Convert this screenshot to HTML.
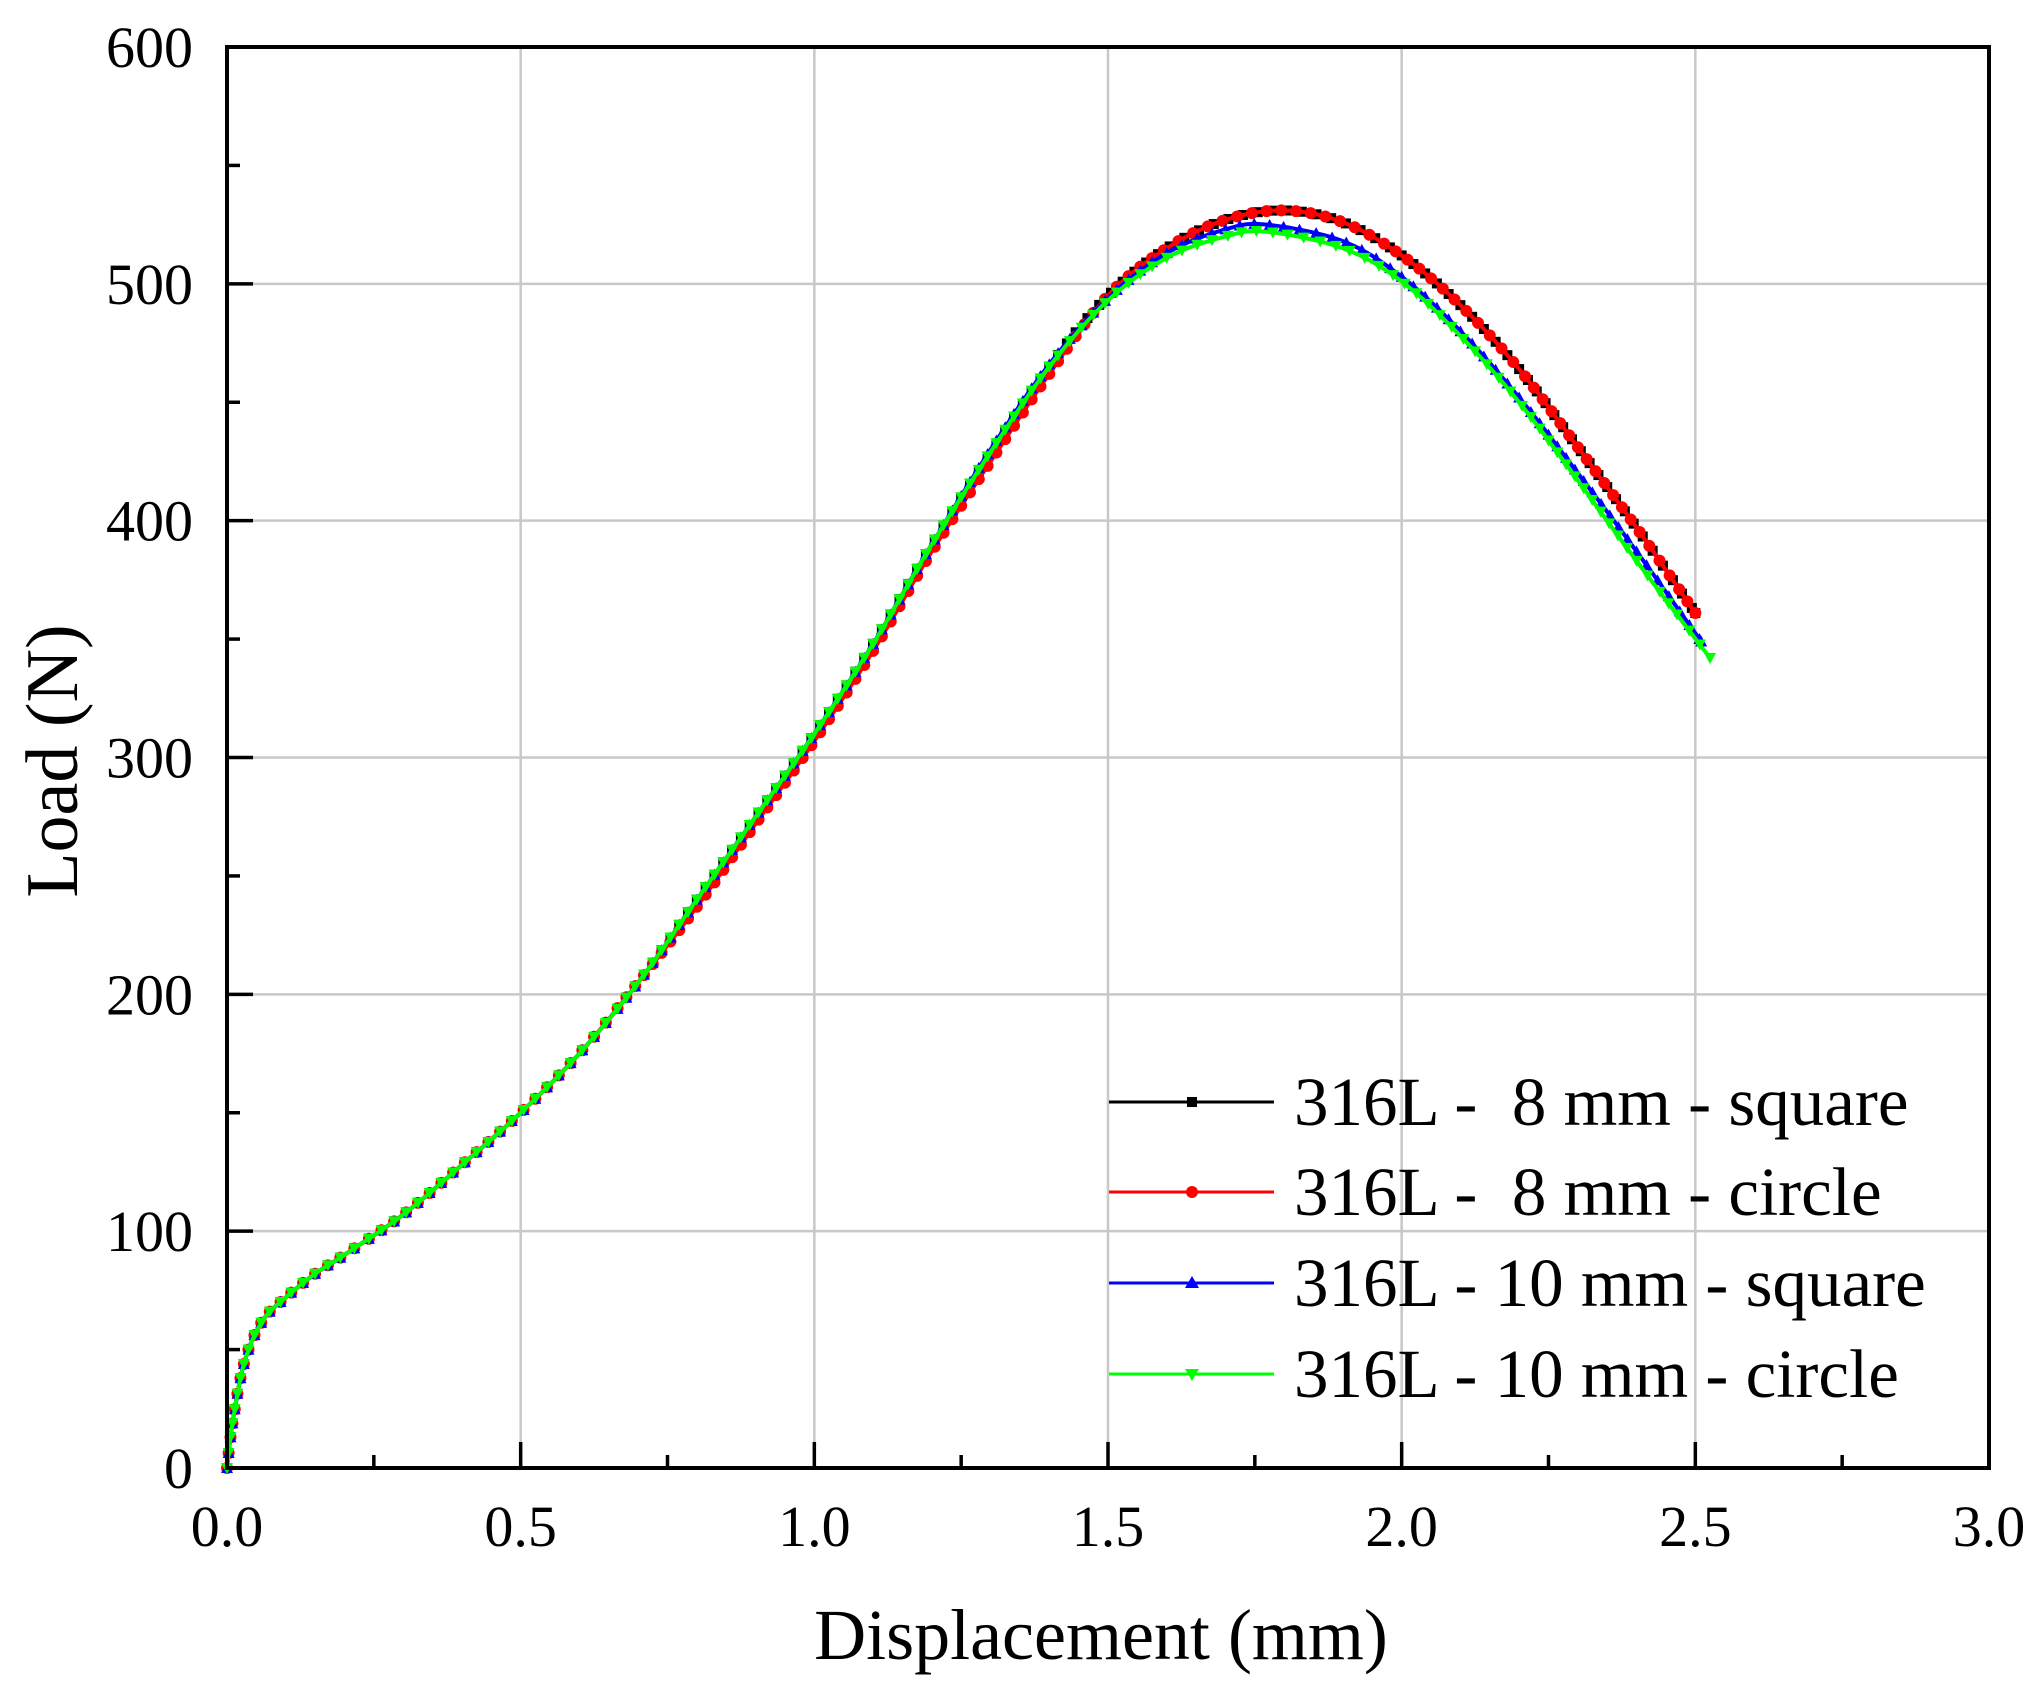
<!DOCTYPE html>
<html><head><meta charset="utf-8"><style>
html,body{margin:0;padding:0;background:#fff}
svg{display:block}
text{font-family:"Liberation Serif",serif;fill:#000}
</style></head><body>
<svg id="s" width="2040" height="1693" viewBox="0 0 2040 1693" xmlns="http://www.w3.org/2000/svg">
<g id="grid" stroke="#c8c8c8" stroke-width="2.5"></g>
<g id="curves"></g>
<g id="ticks" stroke="#000" stroke-width="3.5"></g>
<rect x="227" y="47" width="1762" height="1421" fill="none" stroke="#000" stroke-width="4"/>
<g id="labels" font-size="58"></g>
<text x="1101" y="1659" font-size="72" text-anchor="middle">Displacement (mm)</text>
<text transform="translate(77,761) rotate(-90)" font-size="74" text-anchor="middle">Load (N)</text>
<g id="legend" font-size="69">
<line x1="1109" y1="1102" x2="1274" y2="1102" stroke="#000" stroke-width="3"/>
<rect x="1187" y="1097" width="10" height="10" fill="#000"/>
<text x="1294" y="1125">316L - &#160;8 mm - square</text>
<line x1="1109" y1="1192" x2="1274" y2="1192" stroke="#ff0000" stroke-width="3"/>
<circle cx="1192" cy="1192" r="6" fill="#ff0000"/>
<text x="1294" y="1215">316L - &#160;8 mm - circle</text>
<line x1="1109" y1="1283" x2="1274" y2="1283" stroke="#0000ff" stroke-width="3"/>
<polygon points="1192,1276 1199,1288 1185,1288" fill="#0000ff"/>
<text x="1294" y="1306">316L - 10 mm - square</text>
<line x1="1109" y1="1374" x2="1274" y2="1374" stroke="#00ff00" stroke-width="3"/>
<polygon points="1185,1369 1199,1369 1192,1381" fill="#00ff00"/>
<text x="1294" y="1397">316L - 10 mm - circle</text>
</g>
</svg>
<script>
var NS="http://www.w3.org/2000/svg";
var X0=227,X1=1989,Y0=1468,Y1=47;
function px(d){return X0+d*(X1-X0)/3}
function py(l){return Y0-l*(Y0-Y1)/600}
function el(n,a,p){var e=document.createElementNS(NS,n);for(var k in a)e.setAttribute(k,a[k]);p.appendChild(e);return e}
var g=document.getElementById('grid'),t=document.getElementById('ticks'),lb=document.getElementById('labels');
for(var i=0;i<=6;i++){var x=px(i*0.5);
 if(i>0&&i<6)el('line',{x1:x,y1:Y1,x2:x,y2:Y0},g);
 el('line',{x1:x,y1:Y0,x2:x,y2:Y0-26},t);
 if(i<6)el('line',{x1:px(i*0.5+0.25),y1:Y0,x2:px(i*0.5+0.25),y2:Y0-13},t);
 var tx=el('text',{x:x,y:1546,'text-anchor':'middle'},lb);tx.textContent=(i*0.5).toFixed(1);}
for(var i=0;i<=6;i++){var y=py(i*100);
 if(i>0&&i<6)el('line',{x1:X0,y1:y,x2:X1,y2:y},g);
 el('line',{x1:X0,y1:y,x2:X0+26,y2:y},t);
 if(i<6)el('line',{x1:X0,y1:py(i*100+50),x2:X0+13,y2:py(i*100+50)},t);
 var ty=el('text',{x:193,y:y+20,'text-anchor':'end'},lb);ty.textContent=String(i*100);}
var base=[[0,0],[0.01,20],[0.03,45],[0.06,62],[0.1,72],[0.15,82],[0.2,90],[0.3,107],[0.4,128],[0.5,150],[0.6,175],[0.7,205],[0.8,240],[0.9,275],[1.0,310],[1.1,348],[1.2,390],[1.3,428],[1.4,465],[1.5,495],[1.6,515],[1.7,527],[1.8,531],[1.9,526],[2.0,512],[2.1,491],[2.2,464],[2.3,431],[2.4,397],[2.5,361]];
var red=base.map(function(p){var o=(p[0]>0.7&&p[0]<1.45)?-3:0;return [p[0],p[1]+o]});
var blue=base.slice(0,17).concat([[1.3,430],[1.4,466],[1.5,494],[1.6,513],[1.7,523],[1.77,525],[1.9,518],[2.0,503],[2.1,480],[2.2,452],[2.3,420],[2.4,387],[2.51,349]]);
var green=base.slice(0,17).concat([[1.3,429],[1.4,465],[1.5,493],[1.6,511],[1.7,520],[1.77,522],[1.9,515],[2.0,501],[2.1,478],[2.2,450],[2.3,417],[2.4,383],[2.525,342]]);
function interp(P){var out=[];for(var i=0;i<P.length-1;i++){var p0=P[Math.max(0,i-1)],p1=P[i],p2=P[i+1],p3=P[Math.min(P.length-1,i+2)];
 for(var s=0;s<20;s++){var u=s/20,u2=u*u,u3=u2*u;
  var f=function(a,b,c,d){return 0.5*((2*b)+(-a+c)*u+(2*a-5*b+4*c-d)*u2+(-a+3*b-3*c+d)*u3)};
  out.push([f(p0[0],p1[0],p2[0],p3[0]),f(p0[1],p1[1],p2[1],p3[1])]);}}
 out.push(P[P.length-1]);return out;}
var cv=document.getElementById('curves');
function draw(P,col,mk){var Q=interp(P);
 el('polyline',{points:Q.map(function(q){return px(q[0]).toFixed(1)+','+py(q[1]).toFixed(1)}).join(' '),fill:'none',stroke:col,'stroke-width':4},cv);
 var last=-1;
 for(var i=0;i<Q.length;i++){var x=px(Q[i][0]),y=py(Q[i][1]);
  if(last<0||Math.hypot(x-last[0],y-last[1])>=14||i==Q.length-1){last=[x,y];
   if(mk=='sq')el('rect',{x:x-5,y:y-5,width:10,height:10,fill:col},cv);
   else if(mk=='ci')el('circle',{cx:x,cy:y,r:6,fill:col},cv);
   else if(mk=='up')el('polygon',{points:(x)+','+(y-6)+' '+(x+6)+','+(y+5)+' '+(x-6)+','+(y+5),fill:col},cv);
   else el('polygon',{points:(x-6)+','+(y-5)+' '+(x+6)+','+(y-5)+' '+x+','+(y+6),fill:col},cv);}}}
draw(base,'#000','sq');draw(red,'#ff0000','ci');draw(blue,'#0000ff','up');draw(green,'#00ff00','dn');
</script>
</body></html>
